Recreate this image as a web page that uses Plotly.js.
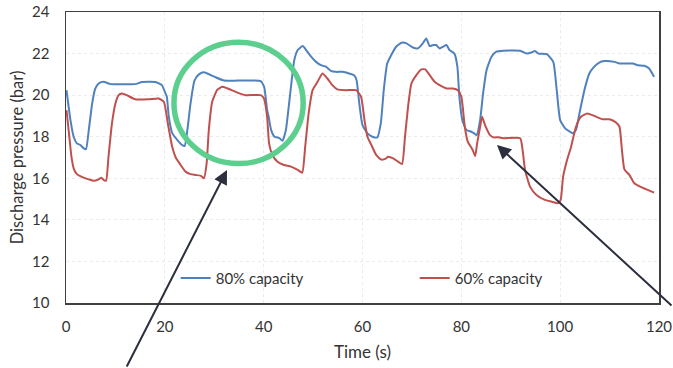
<!DOCTYPE html>
<html>
<head>
<meta charset="utf-8">
<script src="https://cdn.plot.ly/plotly-3.0.1.min.js"></script>
<style>html,body{margin:0;padding:0;background:#fff;}#chart{width:673px;height:368px;}</style>
</head>
<body>
<div id="chart"></div>
<script>
// Time (s) and discharge pressure (bar)
const time80 = [0.1,0.9,1.55,2.2,2.9,3.6,4.05,4.6,5.3,5.9,6.6,7.6,9.0,11.3,14.0,15.4,18.1,19.4,20.1,20.4,20.8,21.5,22.5,23.5,24.0,24.55,25.2,26.0,26.9,27.9,29.9,32.0,34.7,38.0,39.4,40.1,40.7,41.0,41.5,42.2,43.2,43.8,44.5,45.3,46.2,46.9,47.9,48.6,49.6,50.6,51.6,52.6,53.6,54.6,56.0,57.3,58.3,58.8,59.35,60.0,61.0,62.0,63.0,63.7,64.3,65.0,65.8,66.8,67.9,68.9,70.2,71.2,72.2,72.9,73.6,74.3,74.9,75.6,76.3,77.0,77.6,78.6,79.2,79.6,80.2,81.0,82.0,82.6,83.1,83.8,84.4,85.1,86.1,87.1,88.5,91.9,93.2,94.2,94.9,95.6,97.3,98.6,99.3,100.0,101.0,102.0,102.6,103.2,103.9,104.9,105.9,106.9,107.9,108.9,111.0,112.0,114.7,115.7,117.0,118.0,119.0];
const p80 = [20.24,18.8,18.0,17.68,17.6,17.44,17.4,18.3,19.6,20.3,20.56,20.64,20.53,20.53,20.53,20.63,20.63,20.48,20.1,19.93,18.97,18.17,17.85,17.6,17.55,18.3,19.6,20.7,21.0,21.1,20.9,20.7,20.7,20.7,20.67,20.4,19.28,18.97,18.33,18.0,17.93,17.8,18.33,19.93,21.69,22.17,22.36,22.17,21.85,21.6,21.44,21.37,21.17,21.12,21.12,21.04,20.96,20.72,19.6,18.56,18.16,18.0,17.97,18.64,20.24,21.52,21.92,22.33,22.52,22.49,22.29,22.25,22.49,22.73,22.36,22.41,22.41,22.25,22.33,22.41,22.17,22.0,21.37,19.93,18.8,18.33,18.24,18.16,18.08,18.8,20.08,21.2,21.85,22.09,22.14,22.14,22.0,22.05,22.12,22.0,21.97,21.6,20.24,18.8,18.4,18.24,18.16,18.33,19.12,20.24,21.04,21.37,21.57,21.64,21.6,21.52,21.52,21.44,21.41,21.28,20.88];
const time60 = [0.1,0.67,1.1,1.55,2.2,3.2,4.6,5.6,6.6,7.15,7.6,8.1,8.6,9.3,10.0,10.65,11.3,12.3,14.0,16.7,18.75,19.8,20.6,21.5,22.2,23.2,24.2,25.2,26.2,27.3,27.9,28.46,28.9,29.6,30.6,31.6,32.6,34.7,36.3,39.4,40.06,40.7,41.1,41.8,42.8,44.1,45.5,46.9,47.8,48.4,49.1,49.9,50.9,51.9,52.9,53.9,54.9,56.7,58.7,59.7,60.4,61.0,61.8,62.8,63.8,64.8,65.2,66.2,67.2,68.0,68.6,69.3,69.9,70.9,71.9,72.7,73.6,74.6,75.6,77.0,78.3,79.3,80.0,80.7,81.3,82.3,82.8,83.2,83.8,84.2,84.8,85.8,86.5,87.5,88.5,91.9,92.4,92.9,93.9,95.2,96.9,98.2,99.6,100.1,100.6,101.3,102.2,103.2,104.2,105.5,106.9,108.6,110.0,111.3,112.0,112.5,113.0,114.0,115.0,116.4,117.7,119.0];
const p60 = [19.28,18.0,17.04,16.48,16.2,16.07,15.95,15.88,15.95,16.03,15.92,15.88,17.04,18.64,19.6,20.0,20.08,20.0,19.8,19.8,19.84,19.68,18.65,17.5,17.0,16.64,16.32,16.2,16.16,16.12,16.0,16.72,18.32,19.69,20.25,20.4,20.33,20.12,20.0,20.0,19.84,18.96,17.67,17.11,16.8,16.64,16.56,16.4,16.27,17.51,19.12,20.24,20.64,21.04,20.8,20.48,20.28,20.24,20.24,19.93,18.8,18.0,17.6,17.11,16.9,16.96,17.04,16.96,16.8,16.68,18.0,19.6,20.56,20.96,21.24,21.24,20.96,20.64,20.48,20.32,20.32,20.24,19.93,18.48,17.76,17.36,17.07,17.68,18.48,18.96,18.56,18.08,17.97,17.97,17.93,17.93,17.36,16.4,15.6,15.2,14.96,14.88,14.8,14.96,16.08,16.8,17.51,18.48,18.96,19.12,19.0,18.84,18.84,18.68,18.48,17.36,16.43,16.16,15.76,15.57,15.44,15.31];
const seriesNames = ['80% capacity', '60% capacity'];
const xTicks = [0,20,40,60,80,100,120];
const yTicks = [10,12,14,16,18,20,22,24];

const font = 'Lato, "Open Sans", sans-serif';
const traces = [
  {x: time80, y: p80, name: seriesNames[0], type: 'scatter', mode: 'lines',
   line: {color: '#4f81bd', width: 2, shape: 'spline', smoothing: 0.5}},
  {x: time60, y: p60, name: seriesNames[1], type: 'scatter', mode: 'lines',
   line: {color: '#c0504d', width: 2, shape: 'spline', smoothing: 0.5}}
];
const layout = {
  width: 673, height: 368,
  margin: {l: 66, r: 14, t: 12, b: 65},
  paper_bgcolor: '#fff', plot_bgcolor: '#fff',
  font: {family: font, size: 15, color: '#333'},
  showlegend: true,
  legend: {orientation: 'h', x: 0.185, y: 0.085, xanchor: 'left', yanchor: 'middle',
           entrywidth: 194, entrywidthmode: 'pixels', bgcolor: 'rgba(0,0,0,0)',
           font: {family: font, size: 15, color: '#333'}},
  xaxis: {range: [0, 120], tickvals: xTicks, ticktext: xTicks.map(String),
          showline: true, mirror: true, linecolor: '#404040', linewidth: 1.5,
          showgrid: true, gridcolor: '#ebebeb', griddash: 'dot', zeroline: false,
          ticks: 'outside', ticklen: 9, tickcolor: 'rgba(0,0,0,0)',
          tickfont: {size: 15, color: '#333'},
          title: {text: 'Time (s)', font: {size: 17, color: '#333'}, standoff: 12}},
  yaxis: {range: [10, 24], tickvals: yTicks, ticktext: yTicks.map(String),
          showline: true, mirror: true, linecolor: '#404040', linewidth: 1.5,
          showgrid: true, gridcolor: '#ebebeb', griddash: 'dot', zeroline: false,
          ticks: 'outside', ticklen: 12, tickcolor: 'rgba(0,0,0,0)',
          tickfont: {size: 15, color: '#333'},
          title: {text: 'Discharge pressure (bar)', font: {size: 16.5, color: '#333'}, standoff: 4}},
  shapes: [
    {type: 'circle', xref: 'paper', yref: 'paper', x0: 0.182, x1: 0.400, y0: 0.479, y1: 0.896,
     line: {color: '#5ccf8e', width: 5.5}, layer: 'above'}
  ],
  annotations: [
    {xref: 'paper', yref: 'paper', x: 0.2715, y: 0.457, text: '', showarrow: true,
     axref: 'pixel', ayref: 'pixel', ax: -101, ay: 208,
     arrowhead: 2, arrowsize: 1.4, arrowwidth: 2, arrowcolor: '#2b2f3e'},
    {xref: 'paper', yref: 'paper', x: 0.7268, y: 0.543, text: '', showarrow: true,
     axref: 'pixel', ayref: 'pixel', ax: 193, ay: 162,
     arrowhead: 2, arrowsize: 1.4, arrowwidth: 2, arrowcolor: '#2b2f3e'}
  ]
};
Plotly.newPlot('chart', traces, layout, {displayModeBar: false, staticPlot: true});
</script>
</body>
</html>
